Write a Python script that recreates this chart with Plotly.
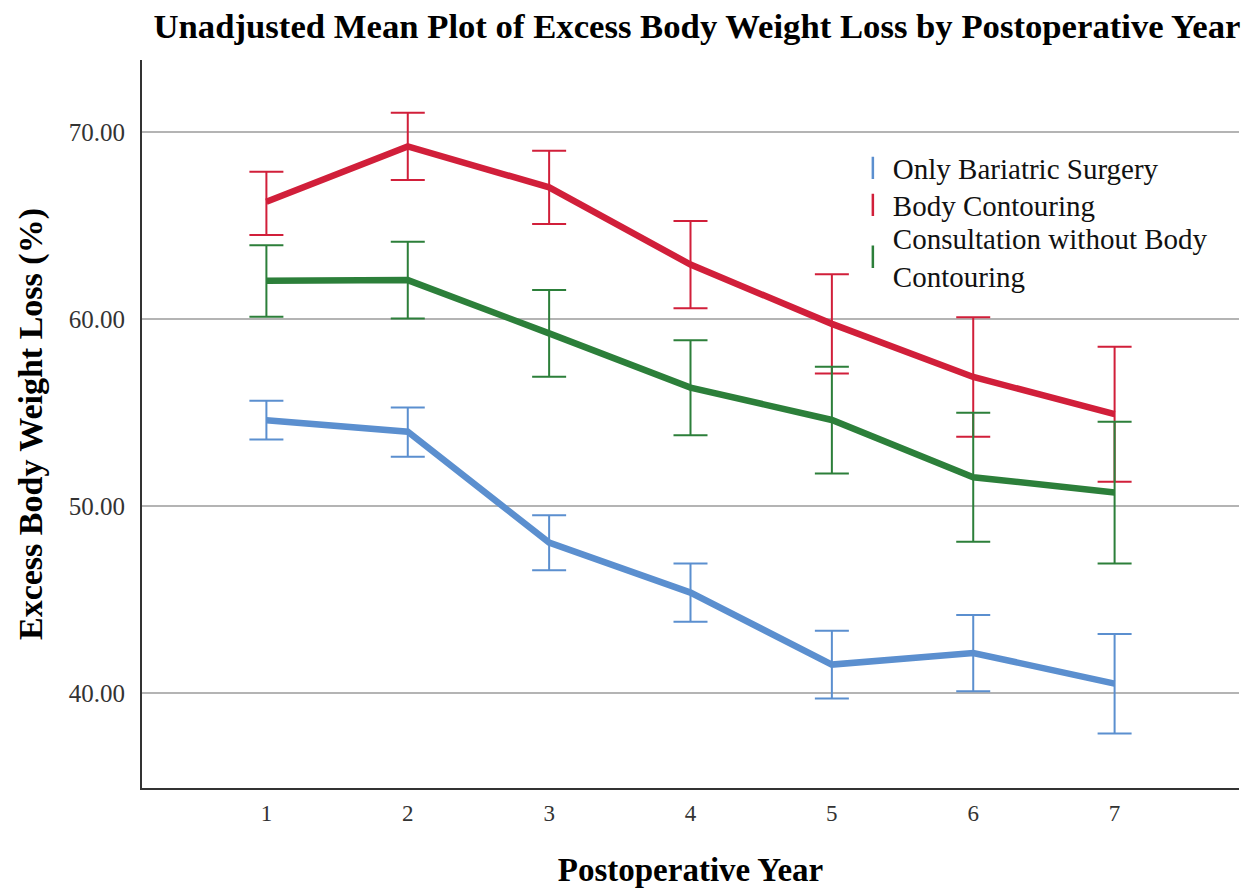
import plotly.graph_objects as go

years = [1, 2, 3, 4, 5, 6, 7]
tick_labels = ["1", "2", "3", "4", "5", "6", "7"]
y_tick_vals = [40, 50, 60, 70]
y_tick_text = ["40.00", "50.00", "60.00", "70.00"]

groups = ["Only Bariatric Surgery", "Body Contouring", "Consultation without Body<br>Contouring"]

blue_mean = [54.61, 53.99, 48.06, 45.39, 41.54, 42.16, 40.52]
blue_upper = [55.65, 55.29, 49.53, 46.95, 43.35, 44.19, 43.17]
blue_lower = [53.58, 52.65, 46.59, 43.83, 39.73, 40.12, 37.86]

red_mean = [66.29, 69.25, 67.06, 62.93, 59.76, 56.92, 54.93]
red_upper = [67.89, 71.05, 69.02, 65.26, 62.41, 60.11, 58.53]
red_lower = [64.51, 67.45, 65.10, 60.59, 57.11, 53.72, 51.32]

green_mean = [62.07, 62.10, 59.25, 56.35, 54.62, 51.56, 50.74]
green_upper = [63.97, 64.15, 61.57, 58.89, 57.47, 55.01, 54.52]
green_lower = [60.14, 60.05, 56.93, 53.81, 51.76, 48.11, 46.95]

colors = ["#5B8FCF", "#D11F3A", "#2C7F3A"]
series = [
    (blue_mean, blue_upper, blue_lower),
    (red_mean, red_upper, red_lower),
    (green_mean, green_upper, green_lower),
]
legend_ids = ["legend", "legend2", "legend3"]
legend_rows = [0.8516, 0.8008, 0.7294]

FONT = "Liberation Serif"

fig = go.Figure()
for (mean, up, lo), col in zip(series, colors):
    fig.add_trace(go.Scatter(
        x=years, y=mean, mode="lines",
        line=dict(color=col, width=6.5),
        error_y=dict(type="data", symmetric=False,
                     array=[u - m for u, m in zip(up, mean)],
                     arrayminus=[m - l for m, l in zip(mean, lo)],
                     color=col, thickness=2, width=17),
        showlegend=False, hoverinfo="skip",
    ))

# legend entries (error-bar style symbols)
for col, name, lid in zip(colors, groups, legend_ids):
    fig.add_trace(go.Scatter(
        x=[None], y=[None], mode="markers", name=name, legend=lid,
        marker=dict(symbol="line-ns", size=18, color=col,
                    line=dict(color=col, width=2.5)),
    ))

legend_common = dict(
    x=0.648, xanchor="left", yanchor="middle",
    bgcolor="rgba(0,0,0,0)", font=dict(family=FONT, size=29, color="#111111"),
    itemwidth=30, tracegroupgap=0,
)

fig.update_layout(
    width=1245, height=880,
    margin=dict(l=134, r=14, t=52, b=100),
    paper_bgcolor="white", plot_bgcolor="white",
    font=dict(family=FONT, color="#222222", size=22),
    title=dict(
        text="<b>Unadjusted Mean Plot of Excess Body Weight Loss by Postoperative Year</b>",
        x=0.5534, xanchor="center", y=1 - 18 / 880, yanchor="middle", yref="container",
        font=dict(family=FONT, size=34.7, color="#000000"),
    ),
    legend=dict(y=legend_rows[0], **legend_common),
    legend2=dict(y=legend_rows[1], **legend_common),
    legend3=dict(y=legend_rows[2], **legend_common),
    xaxis=dict(
        range=[0.12, 7.88], tickmode="array", tickvals=years, ticktext=tick_labels,
        showgrid=False, zeroline=False, showline=True, linecolor="#333333", linewidth=2,
        ticks="", ticklabelstandoff=3, automargin=False,
        tickfont=dict(family=FONT, size=23, color="#333333"),
        title=dict(text="<b>Postoperative Year</b>", standoff=35,
                   font=dict(family=FONT, size=33, color="#000000")),
    ),
    yaxis=dict(
        range=[34.94, 73.87], tickmode="array", tickvals=y_tick_vals, ticktext=y_tick_text,
        showgrid=True, gridcolor="#B4B4B4", gridwidth=1.5, zeroline=False,
        showline=True, linecolor="#333333", linewidth=2,
        ticks="", ticklabelstandoff=10, automargin=False,
        tickfont=dict(family=FONT, size=25, color="#333333"),
        title=dict(text="<b>Excess Body Weight Loss (%)</b>", standoff=16,
                   font=dict(family=FONT, size=34, color="#000000")),
    ),
)

fig.write_html("out.html")
